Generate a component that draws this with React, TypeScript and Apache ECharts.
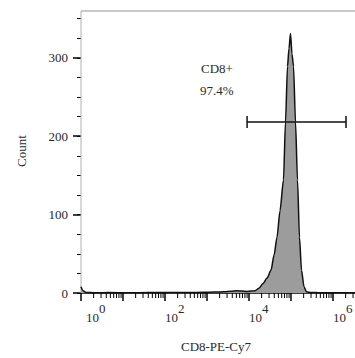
import React, { useEffect, useRef } from 'react';
import * as echarts from 'echarts';

// Histogram: fluorescence (CD8-PE-Cy7) vs count
const histX = [1, 1.12, 1.32, 2.04, 4.6, 13.9, 41.6, 124, 373, 848, 1468, 2540, 3728, 5180, 6810, 8960, 11160, 13890, 17300, 21540, 26830, 33400, 39400, 46420, 54700, 66270, 73950, 82550, 89600, 97250, 105600, 114800, 128000, 142800, 159300, 177800, 204000, 233900, 299400, 464000, 1057000, 3160000, 10000000];
const histCount = [8, 3, 0.6, 0.4, 0.5, 0.4, 0.5, 0.5, 0.6, 0.8, 1.2, 1.6, 2.2, 2.8, 2.4, 2.0, 2.4, 3, 6, 12, 19, 29, 48, 71, 105, 144, 218, 289, 312, 331, 305, 289, 218, 144, 71, 29, 8, 1.5, 0.6, 0.4, 0.3, 0.3, 0.3];

// Gate
const gateName = 'CD8+';
const gatePercent = '97.4%';
const gateX = [9000, 2040000];
const gateY = 218;

// Axes
const xMin = 1;
const xMax = 10000000;
const labelledExponents = [0, 2, 4, 6];
const yMax = 375;
const yMajorInterval = 100;
const yMinorInterval = 25;
const xTitle = 'CD8-PE-Cy7';
const yTitle = 'Count';

const minorTickValues: number[] = [];
for (let k = 0; k < 7; k++) {
  for (let m = 2; m <= 9; m++) minorTickValues.push(m * Math.pow(10, k));
}

const FONT = '"Liberation Serif", "Times New Roman", serif';
const TEXT = '#2a2a2a';

export default function App() {
  const ref = useRef<HTMLDivElement>(null);
  useEffect(() => {
    if (!ref.current) return;
    const chart = echarts.init(ref.current, null, { renderer: 'svg' });
    const gridLeft = 81;
    const option: any = {
      animation: false,
      backgroundColor: '#fff',
      grid: { left: gridLeft, top: -1, width: 294, height: 294, containLabel: false, outerBoundsMode: 'none' },
      xAxis: [
        {
          type: 'log',
          logBase: 10,
          min: xMin,
          max: xMax,
          splitNumber: 7,
          axisLine: { show: true, lineStyle: { color: '#000', width: 1.5 } },
          axisTick: { show: true, length: 8, lineStyle: { color: '#000', width: 1.5 } },
          splitLine: { show: false },
          minorTick: { show: false },
          axisLabel: {
            margin: 9,
            align: 'left',
            color: TEXT,
            fontFamily: FONT,
            formatter: (v: number) => {
              const e = Math.round(Math.log10(v));
              if (labelledExponents.indexOf(e) < 0) return '';
              return (e === 0 ? '{b0|10}' : '{b|10}') + '{s|' + e + '}';
            },
            rich: {
              b: { fontSize: 13, fontFamily: FONT, color: TEXT, verticalAlign: 'bottom', padding: [9, 0, 0, 0] },
              b0: { fontSize: 13, fontFamily: FONT, color: TEXT, verticalAlign: 'bottom', padding: [9, 0, 0, 5] },
              s: { fontSize: 13, fontFamily: FONT, color: TEXT, verticalAlign: 'top' },
            },
          },
          name: xTitle,
          nameLocation: 'middle',
          nameGap: 47,
          nameTextStyle: { fontSize: 13, fontFamily: FONT, color: TEXT, padding: [0, 24, 0, 0] },
        },
      ],
      yAxis: [
        {
          type: 'value',
          min: 0,
          max: yMax,
          interval: yMajorInterval,
          axisLine: { show: false },
          axisTick: { show: true, length: 8, lineStyle: { color: '#000', width: 1.5 } },
          splitLine: { show: false },
          axisLabel: { margin: 13, fontSize: 13, fontFamily: FONT, color: TEXT, showMaxLabel: false },
          name: yTitle,
          nameLocation: 'middle',
          nameGap: 53,
          nameTextStyle: { fontSize: 13, fontFamily: FONT, color: TEXT, padding: [0, 10, 0, 0] },
        },
        {
          type: 'value',
          min: 0,
          max: yMax,
          interval: yMinorInterval,
          position: 'left',
          axisLine: { show: false },
          axisTick: { show: true, length: 4, lineStyle: { color: '#000', width: 1 } },
          splitLine: { show: false },
          axisLabel: { show: false },
        },
      ],
      graphic: [
        { type: 'rect', shape: { x: 0, y: 0, width: 355, height: 10 }, style: { fill: '#fff' }, z: 100 },
        { type: 'line', shape: { x1: gridLeft, y1: 11, x2: 355, y2: 11 }, style: { stroke: '#b8b8b8', lineWidth: 1.5 }, z: 101 },
        { type: 'line', shape: { x1: gridLeft, y1: 11, x2: gridLeft, y2: 293 }, style: { stroke: '#b0b0b0', lineWidth: 1 }, z: 1 },
        { type: 'text', left: 201, top: 62, style: { text: gateName, fontSize: 13, fontFamily: FONT, fill: TEXT } },
        { type: 'text', left: 200, top: 84, style: { text: gatePercent, fontSize: 13, fontFamily: FONT, fill: TEXT } },
      ],
      series: [
        {
          type: 'line',
          name: 'histogram',
          data: histX.map((x, i) => [x, histCount[i]]),
          symbol: 'none',
          smooth: 0.25,
          smoothMonotone: 'x',
          lineStyle: { color: '#111', width: 1.5 },
          areaStyle: { color: '#9c9c9c', opacity: 1 },
          z: 3,
        },
        {
          type: 'custom',
          name: 'gate',
          data: [[gateX[0], gateX[1], gateY]],
          z: 5,
          renderItem: (params: any, api: any) => {
            const p1 = api.coord([api.value(0), api.value(2)]);
            const p2 = api.coord([api.value(1), api.value(2)]);
            const st = { stroke: '#111', lineWidth: 1.5 };
            return {
              type: 'group',
              children: [
                { type: 'line', shape: { x1: p1[0], y1: p1[1], x2: p2[0], y2: p2[1] }, style: st },
                { type: 'line', shape: { x1: p1[0], y1: p1[1] - 6, x2: p1[0], y2: p1[1] + 6 }, style: st },
                { type: 'line', shape: { x1: p2[0], y1: p2[1] - 6, x2: p2[0], y2: p2[1] + 6 }, style: st },
              ],
            };
          },
        },
        {
          type: 'custom',
          name: 'minorTicks',
          data: minorTickValues.map((v) => [v]),
          clip: false,
          z: 6,
          renderItem: (params: any, api: any) => {
            const p = api.coord([api.value(0), 0]);
            return {
              type: 'line',
              shape: { x1: p[0], y1: p[1], x2: p[0], y2: p[1] + 5 },
              style: { stroke: '#000', lineWidth: 1 },
            };
          },
        },
      ],
    };
    chart.setOption(option);
    return () => chart.dispose();
  }, []);
  return <div ref={ref} style={{ position: 'fixed', left: 0, top: 0, width: 355, height: 358 }} />;
}
